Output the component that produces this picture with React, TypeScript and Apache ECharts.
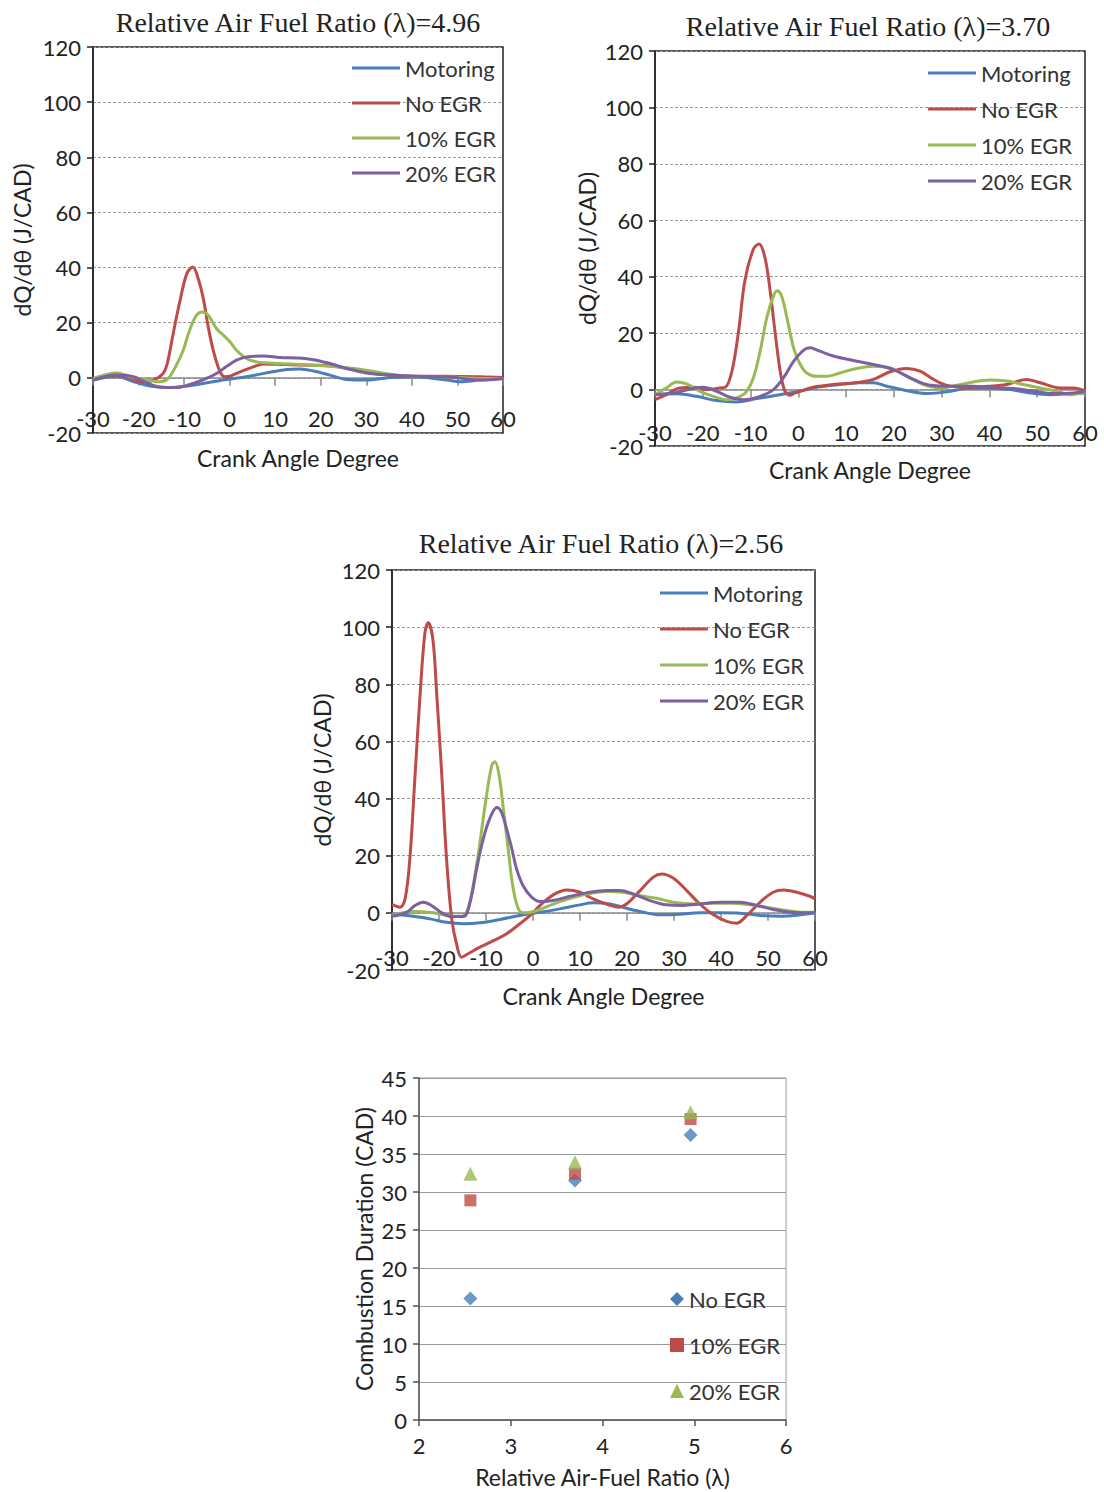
import React, { useEffect, useRef } from "react";
import * as echarts from "echarts";

// ---------- Data ----------
const seriesNames = ["Motoring", "No EGR", "10% EGR", "20% EGR"];
const titles = [
  "Relative Air Fuel Ratio (\u03bb)=4.96",
  "Relative Air Fuel Ratio (\u03bb)=3.70",
  "Relative Air Fuel Ratio (\u03bb)=2.56",
];

// lambda = 4.96 : [crank angle, dQ/dθ]
const c1Motoring = [[-30,-0.8],[-25,0.6],[-21,-1.4],[-17.5,-3],[-13.8,-3.5],[-9.4,-3],[-5,-1.8],[-0.7,-0.6],[3.7,0.4],[8.1,1.8],[12.5,3],[15.4,3.2],[18.4,2.5],[22,1],[25.7,-0.6],[30,-0.8],[35.2,0.1],[40.3,0.4],[47.6,-0.8],[50.6,-1.4],[55,-0.8],[60,-0.2]];
const c1NoEGR = [[-30,-0.8],[-25,1],[-21.8,-0.2],[-19.7,-1.4],[-17.5,-1.2],[-16,-0.2],[-14.6,1.6],[-13.7,5.2],[-12.4,16],[-10.9,28],[-9.4,37.8],[-8.1,40.2],[-6.8,35.4],[-5.7,28],[-4.7,18.4],[-3.6,10],[-2.1,2.2],[-1,0.4],[0.1,0.6],[2.3,2.2],[5.2,4],[7.4,5],[12,4.8],[18,4.6],[22,4.4],[25.7,3.4],[30,2.2],[33,1.3],[40.3,0.6],[47.6,0.6],[55,0.4],[60,0.1]];
const c1EGR10 = [[-30,-0.2],[-24.8,1.8],[-21.8,0.4],[-18.2,-0.8],[-15.3,-1.4],[-13.5,-0.2],[-11.7,4.6],[-10.2,10],[-8.8,17.3],[-7.3,22.7],[-6,23.9],[-4.7,22.7],[-2.9,17.9],[-1.4,15.5],[0.1,13],[1.5,10],[3.7,7],[5.9,5.8],[11,5.2],[18.4,4.6],[25.7,3.7],[30,2.8],[35.2,1.3],[40.3,0.6],[47.6,0.4],[55,-0.2],[60,-0.2]];
const c1EGR20 = [[-30,-0.8],[-24.8,1],[-21.1,0.4],[-18.2,-1.8],[-15.3,-3.3],[-11.6,-3.5],[-8,-2],[-5.1,-0.2],[-2.9,1.6],[-0.8,4],[1.5,6.4],[3.7,7.6],[7.4,7.9],[11,7.4],[14.7,7.2],[18.4,6.6],[22,5.2],[25.7,3.4],[30,1.8],[35.2,1],[40.3,0.6],[47.6,0.4],[55,-0.8],[60,-0.2]];

// lambda = 3.70
const c2Motoring = [[-30,-1.8],[-25.5,-1.5],[-21.3,-2.4],[-17.1,-3.9],[-12.9,-4.4],[-8.7,-3.2],[-4.5,-2],[-0.3,-0.8],[3.8,0.8],[8.7,1.8],[12.9,2.4],[15.7,2.4],[18.5,1.2],[22.7,-0.4],[26.9,-1.4],[31.1,-0.8],[35.2,0.4],[40.1,0.6],[44.3,0],[48.5,-1.2],[52.7,-1.8],[56.9,-1.5],[60,-1.2]];
const c2NoEGR = [[-30,-3.6],[-27.6,-1.8],[-24.8,0.6],[-22,0.8],[-19.2,0],[-16.4,0.6],[-15.3,0.8],[-13.9,6.5],[-12.5,20.8],[-11.2,38.5],[-9.4,49.8],[-8.2,51.6],[-7,46.9],[-5.9,35],[-4.9,20.8],[-3.8,6.5],[-2.8,-0.6],[-1.7,-2],[-0.7,-1.2],[0.4,-0.6],[3.1,0.8],[7.3,1.8],[12.2,2.4],[15.7,3.6],[19.2,6.3],[22.7,7.5],[25.5,6.5],[28.3,3.6],[31.1,1.5],[35.2,0.8],[40.1,1.2],[43.6,1.8],[47.8,3.6],[50.6,2.4],[54.8,0.6],[57.6,0.6],[60,-0.4]];
const c2EGR10 = [[-30,-1.8],[-27.6,0.6],[-25.5,2.7],[-23.4,2],[-20.6,-0.6],[-17.8,-2.4],[-15,-3.6],[-12.2,-2.4],[-10.8,-0.6],[-9.4,4.2],[-8,13.6],[-6.6,25.5],[-5.2,33.2],[-4.4,35],[-3.5,33.2],[-2.4,25.5],[-1,14.8],[0.4,8.9],[1.75,5.9],[3.8,4.7],[5.9,4.7],[8.7,5.9],[12.2,7.5],[15.7,8.3],[19.2,7.7],[22.7,4.7],[26.2,1.8],[29.7,0.6],[33.2,1.5],[36.6,2.7],[40.1,3.4],[43.6,3],[47.1,1.8],[50.6,0.6],[54.1,-0.6],[56.9,-1.8],[60,-0.8]];
const c2EGR20 = [[-30,-1.8],[-26.2,-1.2],[-19.9,0.8],[-17.1,-0.6],[-14.3,-2.7],[-11.5,-3.6],[-8,-2.4],[-5.2,0],[-3.1,4.2],[-1,10],[1.05,13.9],[2.4,14.8],[4.5,13.6],[7.3,11.9],[11.5,10.3],[15.7,8.9],[19.9,7.1],[24.1,3.6],[27.6,1.5],[31.8,1.2],[36.6,1.2],[40.8,0.6],[45,0.4],[49.2,-0.6],[53.4,-1.4],[57.6,-1.2],[60,-0.6]];

// lambda = 2.56
const c3Motoring = [[-30,-0.3],[-25.5,-1.2],[-21.9,-2.1],[-18.4,-3.3],[-14.8,-3.8],[-11.3,-3.5],[-7,-2.3],[-2.8,-0.9],[1.5,0.2],[5.7,1.4],[10,2.8],[12.8,3.5],[16.4,3.1],[19.9,1.6],[23.5,0.2],[27,-0.7],[31.3,-0.5],[35.5,0],[39.8,0],[44,-0.1],[48.3,-0.9],[52.6,-1.2],[56.8,-0.7],[60,0]];
const c3NoEGR = [[-30,3],[-28.3,2],[-27.2,5],[-26.2,19],[-25.1,48],[-24,77],[-23,98],[-22.3,101.5],[-21.3,95.7],[-20.5,77],[-19.4,48],[-18.4,19],[-17.3,-2],[-16.2,-11.4],[-15.2,-15.5],[-13.8,-14.3],[-11.3,-12],[-8.4,-9.7],[-5.6,-7.3],[-2.8,-3.8],[-0.6,-0.9],[1.5,2.6],[4.3,6.3],[7.2,8],[10,7.2],[12.8,4.9],[16.4,2.6],[18.2,2],[19.9,3.1],[22.8,7.8],[25.6,12.5],[27.4,13.6],[29.9,12.1],[32.7,7.8],[35.5,3.1],[38.4,-0.7],[41.2,-3],[43.3,-3.6],[45.5,-0.9],[48.3,3.7],[51.1,7.2],[53.3,8],[56.1,7.2],[58.9,5.8],[60,4.9]];
const c3EGR10 = [[-30,-0.9],[-25.5,0.5],[-21.2,0],[-18.4,-0.9],[-15.2,-1.2],[-14.1,0.2],[-13,7.2],[-11.6,21],[-10.2,37.5],[-8.8,51.5],[-8.1,52.9],[-7.2,48],[-6.3,36.3],[-5.2,21.2],[-4.2,8.4],[-2.8,0.5],[-1.3,0],[0.8,0.8],[3.6,2.6],[7.2,4.7],[11.4,6.6],[15.7,7.5],[19.2,7.2],[22.8,6],[26.3,5.1],[29.9,3.7],[34.1,3.1],[38.4,3.4],[42.6,3.4],[46.2,2.8],[49.7,2],[54,0.8],[57.5,0.2],[60,0.2]];
const c3EGR20 = [[-30,-1.2],[-26.9,0.2],[-25.1,2.6],[-23.3,3.7],[-21.6,2.6],[-19.4,0],[-17.3,-1.3],[-14.8,-1.3],[-13.4,3.7],[-12,15.4],[-10.6,25.8],[-9.1,33.4],[-7.7,36.9],[-6.7,35.2],[-5.6,29.3],[-4.5,22.4],[-3.5,15.4],[-2.1,9.5],[-0.3,5.5],[1.5,4],[4.3,4.3],[7.9,5.8],[11.4,7],[15.7,7.8],[18.5,7.8],[21.3,6.6],[24.9,4.3],[28.4,2.8],[32,2.6],[35.5,3.1],[39.8,3.7],[44,3.7],[47.6,2.6],[51.1,1.2],[54.7,0.2],[60,0]];

// Combustion duration scatter
const lambdas = [2.56, 3.7, 4.96];
const durNoEGR = [16, 31.5, 37.5];
const dur10EGR = [28.9, 32.4, 39.6];
const dur20EGR = [32.4, 33.9, 40.5];
const scatterNames = ["No EGR", "10% EGR", "20% EGR"];

// ---------- Styles ----------
const lineColors = ["#4A7EBB", "#BE4B48", "#98B954", "#7D60A0"];
const scatterColors = ["#4A7EBB", "#BE4B48", "#98B954"];
const scatterSymbols = ["diamond", "rect", "triangle"];
const scatterSizes = [14, 12, 14];
const SANS = "Lato, 'Noto Sans', sans-serif";
const SERIF = "'Liberation Serif', 'DejaVu Serif', serif";
const TXT = "#222";

const lineGrids = [
  { left: 93, top: 47, width: 410, height: 386, xNameGap: 13, yNameGap: 60, labelMargin: -26, title: [298, 22], legend: [352, 57, 13] },
  { left: 655, top: 51, width: 430, height: 395, xNameGap: 12, yNameGap: 57, labelMargin: -25, title: [868, 26], legend: [928, 62, 14] },
  { left: 392, top: 570, width: 423, height: 400, xNameGap: 14, yNameGap: 59, labelMargin: -24, title: [601, 543], legend: [660, 582, 14] },
];
const scatterGrid = { left: 419, top: 1078, width: 367, height: 342 };

const lineData = [
  [c1Motoring, c1NoEGR, c1EGR10, c1EGR20],
  [c2Motoring, c2NoEGR, c2EGR10, c2EGR20],
  [c3Motoring, c3NoEGR, c3EGR10, c3EGR20],
];

function buildOption() {
  const grid: any[] = [];
  const xAxis: any[] = [];
  const yAxis: any[] = [];
  const series: any[] = [];
  const legend: any[] = [];
  const graphic: any[] = [];

  lineGrids.forEach((g, gi) => {
    grid.push({
      left: g.left, top: g.top, width: g.width, height: g.height,
      show: true, borderColor: "#222", borderWidth: 1.5, containLabel: false,
    });
    xAxis.push({
      gridIndex: gi, type: "value", min: -30, max: 60, interval: 10,
      axisLine: { onZero: true, lineStyle: { color: "#8a8a8a", width: 1.5 } },
      axisTick: { show: true, length: 8, lineStyle: { color: "#8a8a8a", width: 1.5 } },
      axisLabel: { margin: g.labelMargin, fontSize: 22, color: TXT, fontFamily: SANS },
      splitLine: { show: false },
      name: "Crank Angle Degree", nameLocation: "middle", nameGap: g.xNameGap,
      nameTextStyle: { fontSize: 23, color: TXT, fontFamily: SANS },
    });
    yAxis.push({
      gridIndex: gi, type: "value", min: -20, max: 120, interval: 20,
      axisLine: { show: true, onZero: false, lineStyle: { color: "#222", width: 1.5 } },
      axisTick: { show: true, length: 6, lineStyle: { color: "#222", width: 1.5 } },
      axisLabel: { margin: 12, fontSize: 22, color: TXT, fontFamily: SANS },
      splitLine: { show: true, lineStyle: { type: [3, 2], color: "#9a9a9a", width: 1 } },
      name: "dQ/d\u03b8 (J/CAD)", nameLocation: "middle", nameGap: g.yNameGap,
      nameTextStyle: { fontSize: 23, color: TXT, fontFamily: SANS },
    });
    seriesNames.forEach((name, si) => {
      series.push({
        type: "line", name, xAxisIndex: gi, yAxisIndex: gi,
        data: lineData[gi][si], smooth: 0.35, showSymbol: false, symbol: "none",
        color: lineColors[si], lineStyle: { color: lineColors[si], width: 3 },
        z: 3 + si,
      });
    });
    legend.push({
      orient: "vertical", left: g.legend[0], top: g.legend[1], itemGap: g.legend[2],
      itemWidth: 48, itemHeight: 3, selectedMode: false, padding: 0,
      textStyle: { fontSize: 22, color: "#333", fontFamily: SANS, lineHeight: 22 },
      data: seriesNames.map((n, i) => ({ name: n, icon: "rect", itemStyle: { color: lineColors[i], borderWidth: 0 } })),
    });
    graphic.push({
      type: "text", x: g.title[0], y: g.title[1],
      style: { text: titles[gi], font: `28px ${SERIF}`, fill: TXT, textAlign: "center", textVerticalAlign: "middle" },
    });
  });

  // scatter chart
  const si = 3;
  grid.push({
    left: scatterGrid.left, top: scatterGrid.top, width: scatterGrid.width, height: scatterGrid.height,
    show: true, borderColor: "#9a9a9a", borderWidth: 1,
  });
  xAxis.push({
    gridIndex: si, type: "value", min: 2, max: 6, interval: 1,
    axisLine: { onZero: false, lineStyle: { color: "#555", width: 1.5 } },
    axisTick: { show: true, length: 6, lineStyle: { color: "#555", width: 1.5 } },
    axisLabel: { margin: 14, fontSize: 22, color: TXT, fontFamily: SANS },
    splitLine: { show: false },
    name: "Relative Air-Fuel Ratio (\u03bb)", nameLocation: "middle", nameGap: 45,
    nameTextStyle: { fontSize: 23, color: TXT, fontFamily: SANS },
  });
  yAxis.push({
    gridIndex: si, type: "value", min: 0, max: 45, interval: 5,
    axisLine: { show: true, onZero: false, lineStyle: { color: "#555", width: 1.5 } },
    axisTick: { show: true, length: 6, lineStyle: { color: "#555", width: 1.5 } },
    axisLabel: { margin: 12, fontSize: 22, color: TXT, fontFamily: SANS },
    splitLine: { show: true, lineStyle: { color: "#9a9a9a", width: 1.2 } },
    name: "Combustion Duration (CAD)", nameLocation: "middle", nameGap: 44,
    nameTextStyle: { fontSize: 23, color: TXT, fontFamily: SANS },
  });
  [durNoEGR, dur10EGR, dur20EGR].forEach((vals, k) => {
    series.push({
      type: "scatter", name: scatterNames[k], xAxisIndex: si, yAxisIndex: si,
      data: lambdas.map((l, i) => [l, vals[i]]),
      symbol: scatterSymbols[k], symbolSize: scatterSizes[k],
      itemStyle: { color: scatterColors[k] }, z: 3 + k,
    });
  });
  legend.push({
    orient: "vertical", left: 670, top: 1288, itemGap: 24,
    itemWidth: 14, itemHeight: 14, selectedMode: false, padding: 0,
    textStyle: { fontSize: 22, color: "#333", fontFamily: SANS, lineHeight: 22 },
    data: scatterNames.map((n, k) => ({
      name: n, icon: scatterSymbols[k],
      itemStyle: { color: scatterColors[k], borderWidth: 0 },
    })),
  });

  return {
    animation: false,
    backgroundColor: "#fff",
    textStyle: { fontFamily: SANS },
    grid, xAxis, yAxis, series, legend, graphic,
  };
}

export default function App() {
  const ref = useRef<HTMLDivElement>(null);
  useEffect(() => {
    if (!ref.current) return;
    const chart = echarts.init(ref.current, null, { renderer: "svg" });
    chart.setOption(buildOption());
    return () => chart.dispose();
  }, []);
  return (
    <div
      ref={ref}
      style={{ position: "absolute", left: 0, top: 0, width: 1104, height: 1492, background: "#fff" }}
    />
  );
}
